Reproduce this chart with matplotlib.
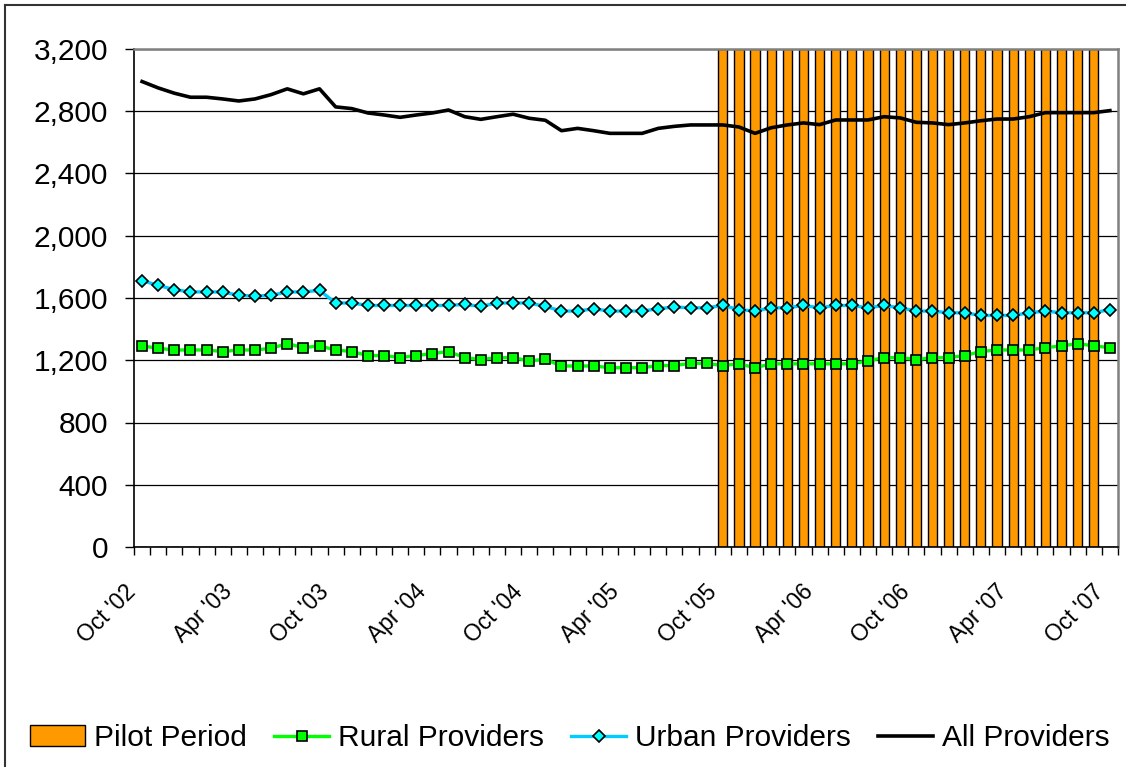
import matplotlib
matplotlib.use("Agg")
import matplotlib.pyplot as plt
import matplotlib.transforms as mtransforms
import numpy as np
import pandas as pd
from matplotlib.lines import Line2D
from matplotlib.patches import Patch
from matplotlib.ticker import FuncFormatter

plt.rcParams["font.family"] = ["Liberation Sans", "DejaVu Sans"]

# Monthly categories, Oct 2002 - Oct 2007
months = pd.date_range("2002-10-01", "2007-10-01", freq="MS")
month_labels = [d.strftime("%b '%y") for d in months]

all_providers = [
    2991, 2950, 2916, 2890, 2890, 2879, 2866, 2879, 2907, 2944, 2912, 2944,
    2828, 2817, 2789, 2776, 2761, 2776, 2789, 2808, 2765, 2748, 2765, 2781,
    2755, 2742, 2675, 2690, 2675, 2658, 2658, 2658, 2690, 2703, 2712, 2712,
    2712, 2699, 2658, 2694, 2712, 2725, 2714, 2744, 2744, 2744, 2765, 2757,
    2729, 2725, 2714, 2725, 2739, 2750, 2750, 2765, 2791, 2791, 2791, 2791,
    2804,
]
urban_providers = [
    1712, 1681, 1654, 1639, 1639, 1639, 1617, 1613, 1617, 1639, 1639, 1649,
    1568, 1568, 1552, 1552, 1552, 1552, 1552, 1552, 1559, 1546, 1568, 1568,
    1568, 1546, 1516, 1516, 1531, 1516, 1516, 1516, 1531, 1542, 1537, 1537,
    1552, 1526, 1516, 1537, 1537, 1552, 1537, 1552, 1552, 1537, 1552, 1537,
    1516, 1516, 1505, 1505, 1488, 1488, 1488, 1505, 1516, 1505, 1505, 1505,
    1526,
]
rural_providers = [
    1292, 1277, 1266, 1266, 1266, 1256, 1266, 1266, 1277, 1307, 1281, 1292,
    1266, 1256, 1230, 1230, 1217, 1230, 1243, 1256, 1217, 1204, 1217, 1217,
    1196, 1206, 1163, 1163, 1163, 1152, 1152, 1152, 1166, 1166, 1180, 1180,
    1166, 1177, 1152, 1177, 1177, 1177, 1177, 1177, 1177, 1196, 1217, 1217,
    1204, 1217, 1217, 1230, 1256, 1266, 1266, 1266, 1281, 1292, 1307, 1292,
    1281,
]

# Pilot period runs Oct '05 through Sep '07; bars fill the full value range
pilot_first, pilot_last = "Oct '05", "Sep '07"
pilot_height = 3200

y_ticks = [0, 400, 800, 1200, 1600, 2000, 2400, 2800, 3200]

W, H = 1126, 767
fig = plt.figure(figsize=(W / 100, H / 100), dpi=100)
ax = fig.add_axes([134 / W, 1 - 547 / H, (1118 - 134) / W, (547 - 49) / H])

x = np.arange(len(month_labels))
i0 = month_labels.index(pilot_first)
i1 = month_labels.index(pilot_last)
pilot_values = [pilot_height if i0 <= i <= i1 else 0 for i in x]

ax.bar(x, pilot_values, width=0.57, color="#FF9900", edgecolor="black",
       linewidth=1.0, zorder=2)

ax.plot(x, rural_providers, color="#00FF00", lw=2.4, marker="s", ms=6.8,
        mfc="#00FF00", mec="black", mew=1.2, zorder=4)
ax.plot(x, urban_providers, color="#00CCFF", lw=2.4, marker="D", ms=6.0,
        mfc="#00FFFF", mec="black", mew=1.2, zorder=4)
ax.plot(x, all_providers, color="black", lw=2.6, zorder=5)

ax.set_xlim(-0.5, len(x) - 0.5)
ax.set_ylim(0, 3200)
ax.set_yticks(y_ticks)
ax.yaxis.set_major_formatter(FuncFormatter(lambda v, p: f"{int(v):,}"))
ax.tick_params(axis="y", direction="out", length=6.5, width=1, pad=12,
               labelsize=21.5, colors="black")

# tick marks sit between categories; labels every six months
ax.set_xticks(np.arange(-0.5, len(x), 1.0))
ax.set_xticklabels([])
ax.tick_params(axis="x", which="major", direction="out", length=5.5, width=1)
ax.set_xticks(x[::6], minor=True)
ax.set_xticklabels([month_labels[i] for i in x[::6]], minor=True,
                   rotation=45, ha="right", va="top", rotation_mode="anchor",
                   fontsize=16.5)
ax.tick_params(axis="x", which="minor", length=0, pad=24)
shift = mtransforms.ScaledTranslation(-18 / 100, 0, fig.dpi_scale_trans)
for lbl in ax.get_xticklabels(minor=True):
    lbl.set_transform(lbl.get_transform() + shift)

ax.yaxis.grid(True, color="black", lw=0.9, zorder=0)
ax.set_axisbelow(True)
for s in ("left", "bottom"):
    ax.spines[s].set_color("black")
    ax.spines[s].set_linewidth(1.2)
for s in ("top", "right"):
    ax.spines[s].set_color("#808080")
    ax.spines[s].set_linewidth(1.8)

# outer chart border
fig.add_artist(Line2D([5 / W, 5 / W], [0, 1 - 5 / H], color="#333333", lw=1.5))
fig.add_artist(Line2D([5 / W, 1], [1 - 5 / H, 1 - 5 / H], color="#333333", lw=1.5))

handles = [
    Patch(facecolor="#FF9900", edgecolor="black", lw=1.0),
    Line2D([], [], color="#00FF00", lw=2.4, marker="s", ms=6.8,
           mfc="#00FF00", mec="black", mew=1.2),
    Line2D([], [], color="#00CCFF", lw=2.4, marker="D", ms=6.0,
           mfc="#00FFFF", mec="black", mew=1.2),
    Line2D([], [], color="black", lw=2.6),
]
labels = ["Pilot Period", "Rural Providers", "Urban Providers", "All Providers"]
fig.legend(handles, labels, loc="center", bbox_to_anchor=(570 / W, 1 - 738 / H),
           ncol=4, frameon=False, fontsize=21.5, handlelength=1.85,
           handletextpad=0.3, columnspacing=0.9, borderpad=0, borderaxespad=0)

fig.savefig("out.png", dpi=100)
